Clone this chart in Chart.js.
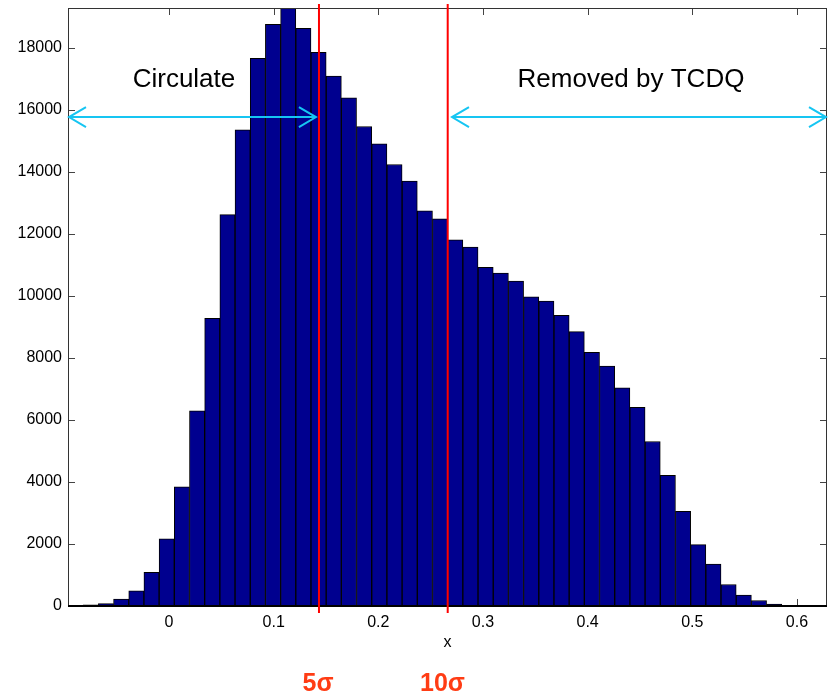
<!DOCTYPE html>
<html>
<head>
<meta charset="utf-8">
<script src="https://cdn.jsdelivr.net/npm/chart.js@4/dist/chart.umd.min.js"></script>
<style>
  html, body { margin: 0; padding: 0; background: #fff; }
  canvas { display: block; }
</style>
</head>
<body>
<canvas id="histChart" width="829" height="696"></canvas>
<script>
// Histogram bins (bin centres along x) and counts
const binCenters = [
    -0.08925, -0.07474, -0.06023, -0.04572, -0.03121, -0.01670, -0.00219, 0.01232,
    0.02683, 0.04134, 0.05585, 0.07036, 0.08488, 0.09939, 0.11390, 0.12841,
    0.14292, 0.15743, 0.17194, 0.18645, 0.20096, 0.21547, 0.22998, 0.24449,
    0.25900, 0.27351, 0.28802, 0.30253, 0.31704, 0.33155, 0.34606, 0.36057,
    0.37508, 0.38959, 0.40410, 0.41861, 0.43312, 0.44763, 0.46214, 0.47665,
    0.49116, 0.50567, 0.52018, 0.53469, 0.54920, 0.56371, 0.57822, 0.59273
];
const counts = [
    15, 40, 75, 226, 485, 1088, 2164, 3843,
    6288, 9270, 12614, 15350, 17650, 18750, 19600, 18620,
    17850, 17080, 16380, 15455, 14900, 14230, 13700, 12740,
    12480, 11800, 11570, 10920, 10730, 10470, 9965, 9826,
    9373, 8845, 8178, 7736, 7035, 6400, 5303, 4215,
    3052, 1976, 1351, 694, 350, 178, 58, 25
];

// Tick values
const xTickValues = [0, 0.1, 0.2, 0.3, 0.4, 0.5, 0.6];
const yTickValues = [0, 2000, 4000, 6000, 8000, 10000, 12000, 14000, 16000, 18000];

// Axis limits
const xMin = -0.0965;
const xMax = 0.6287;
const yMax = 19275;

// Cut positions (5 sigma and 10 sigma) and annotations
const cutPositions = [0.1433, 0.2663];
const cutLabels = ['5σ', '10σ'];
const cutLabelX = [0.1424, 0.2613];
const arrowY = 15760;
const circulateArrow = [xMin, 0.1404];
const removedArrow = [0.2704, xMax];
const annotTexts = ['Circulate', 'Removed by TCDQ'];
const annotX = [0.0143, 0.4414];
const annotY = 16950;

const FONT = "'Liberation Sans', Arial, sans-serif";

const drawArrow = (ctx, x1, x2, y) => {
    const hl = 17, hw = 10;
    ctx.beginPath();
    ctx.moveTo(x1, y);
    ctx.lineTo(x2, y);
    // open heads on both ends
    ctx.moveTo(x1 + hl, y - hw);
    ctx.lineTo(x1, y);
    ctx.lineTo(x1 + hl, y + hw);
    ctx.moveTo(x2 - hl, y - hw);
    ctx.lineTo(x2, y);
    ctx.lineTo(x2 - hl, y + hw);
    ctx.stroke();
};

// Frame, inward ticks, cut lines, arrows and labels
const annotatePlugin = {
    id: 'annotate',
    beforeDatasetsDraw(chart) {
        const { ctx, chartArea: a, scales: { x, y } } = chart;
        ctx.save();
        ctx.strokeStyle = '#444';
        ctx.lineWidth = 1;
        ctx.beginPath();
        x.ticks.forEach(t => {
            const px = Math.round(x.getPixelForValue(t.value)) + 0.5;
            ctx.moveTo(px, a.top); ctx.lineTo(px, a.top + 7);
            ctx.moveTo(px, a.bottom); ctx.lineTo(px, a.bottom - 7);
        });
        y.ticks.forEach(t => {
            const py = Math.round(y.getPixelForValue(t.value)) + 0.5;
            ctx.moveTo(a.left, py); ctx.lineTo(a.left + 7, py);
            ctx.moveTo(a.right, py); ctx.lineTo(a.right - 7, py);
        });
        ctx.stroke();
        ctx.restore();
    },
    afterDatasetsDraw(chart) {
        const { ctx, chartArea: a, scales: { x, y } } = chart;
        ctx.save();

        // frame
        ctx.strokeStyle = '#333';
        ctx.lineWidth = 1;
        ctx.strokeRect(a.left + 0.5, a.top + 0.5, a.right - a.left - 1, a.bottom - a.top - 1);
        ctx.strokeStyle = '#000';
        ctx.lineWidth = 2;
        ctx.beginPath();
        ctx.moveTo(a.left, a.bottom);
        ctx.lineTo(a.right, a.bottom);
        ctx.stroke();

        // red cut lines
        ctx.strokeStyle = '#ff0000';
        ctx.lineWidth = 2;
        cutPositions.forEach(v => {
            const px = x.getPixelForValue(v);
            ctx.beginPath();
            ctx.moveTo(px, a.top - 4);
            ctx.lineTo(px, a.bottom + 7);
            ctx.stroke();
        });

        // arrows
        ctx.strokeStyle = '#16c5f2';
        ctx.lineWidth = 2;
        const ay = y.getPixelForValue(arrowY);
        drawArrow(ctx, x.getPixelForValue(circulateArrow[0]) + 1, x.getPixelForValue(circulateArrow[1]), ay);
        drawArrow(ctx, x.getPixelForValue(removedArrow[0]), x.getPixelForValue(removedArrow[1]) - 1, ay);

        // region texts
        ctx.fillStyle = '#000';
        ctx.font = '26px ' + FONT;
        ctx.textAlign = 'center';
        ctx.textBaseline = 'middle';
        annotTexts.forEach((txt, i) => {
            ctx.fillText(txt, x.getPixelForValue(annotX[i]), y.getPixelForValue(annotY));
        });

        // sigma labels below the axis
        ctx.fillStyle = '#ff3c14';
        ctx.font = 'bold 25px ' + FONT;
        cutLabels.forEach((txt, i) => {
            ctx.fillText(txt, x.getPixelForValue(cutLabelX[i]), a.bottom + 78);
        });
        ctx.restore();
    }
};

const tickFont = { family: FONT, size: 16 };

new Chart(document.getElementById('histChart'), {
    type: 'bar',
    data: {
        datasets: [{
            data: binCenters.map((c, i) => ({ x: c, y: counts[i] })),
            backgroundColor: '#00008f',
            borderColor: '#000',
            borderWidth: 1,
            barPercentage: 1,
            categoryPercentage: 1
        }]
    },
    options: {
        responsive: false,
        animation: false,
        layout: { padding: { left: 0, right: 2, top: 8, bottom: 44 } },
        plugins: {
            legend: { display: false },
            tooltip: { enabled: false }
        },
        scales: {
            x: {
                type: 'linear',
                min: xMin,
                max: xMax,
                offset: false,
                grid: { display: false, drawTicks: false },
                border: { display: false },
                afterBuildTicks: s => { s.ticks = xTickValues.map(v => ({ value: v })); },
                ticks: {
                    autoSkip: false,
                    maxRotation: 0,
                    padding: 7,
                    color: '#000',
                    font: tickFont,
                    callback: v => String(v)
                },
                title: { display: true, text: 'x', color: '#000', font: tickFont, padding: 0 },
                afterFit: s => { s.height = 46; s.paddingLeft = 0; s.paddingRight = 0; }
            },
            y: {
                min: 0,
                max: yMax,
                grid: { display: false, drawTicks: false },
                border: { display: false },
                afterBuildTicks: s => { s.ticks = yTickValues.map(v => ({ value: v })); },
                ticks: {
                    autoSkip: false,
                    padding: 6,
                    color: '#000',
                    font: tickFont,
                    callback: v => String(v)
                },
                afterFit: s => { s.width = 68; s.paddingTop = 0; s.paddingBottom = 0; }
            }
        }
    },
    plugins: [annotatePlugin]
});
</script>
</body>
</html>
